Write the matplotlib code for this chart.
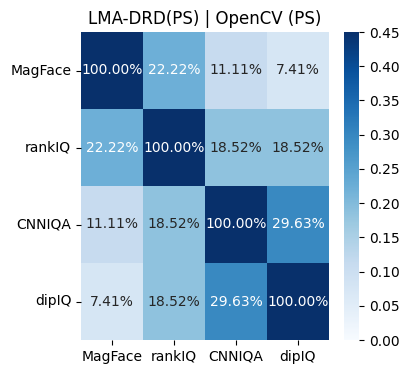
import matplotlib
matplotlib.use("Agg")
import matplotlib.pyplot as plt
import numpy as np
import seaborn as sns

labels = ["MagFace", "rankIQ", "CNNIQA", "dipIQ"]
overlap = [
    [1.0, 0.2222, 0.1111, 0.0741],
    [0.2222, 1.0, 0.1852, 0.1852],
    [0.1111, 0.1852, 1.0, 0.2963],
    [0.0741, 0.1852, 0.2963, 1.0],
]

fig = plt.figure(figsize=(4.1, 3.74), dpi=100)
ax = fig.add_axes([81 / 410, 34 / 374, 248 / 410, 308 / 374])
cax = fig.add_axes([344 / 410, 34 / 374, 15 / 410, 308 / 374])

sns.heatmap(np.array(overlap), annot=True, fmt=".2%", cmap="Blues",
            vmin=0, vmax=0.45, xticklabels=labels, yticklabels=labels,
            ax=ax, cbar_ax=cax)
ax.set_title("LMA-DRD(PS) | OpenCV (PS)")
ax.tick_params(axis="y", rotation=0)
cax.set_yticks(np.arange(0, 0.46, 0.05))
cax.set_yticklabels([f"{t:.2f}" for t in np.arange(0, 0.46, 0.05)])

fig.savefig("out.png", dpi=100)
